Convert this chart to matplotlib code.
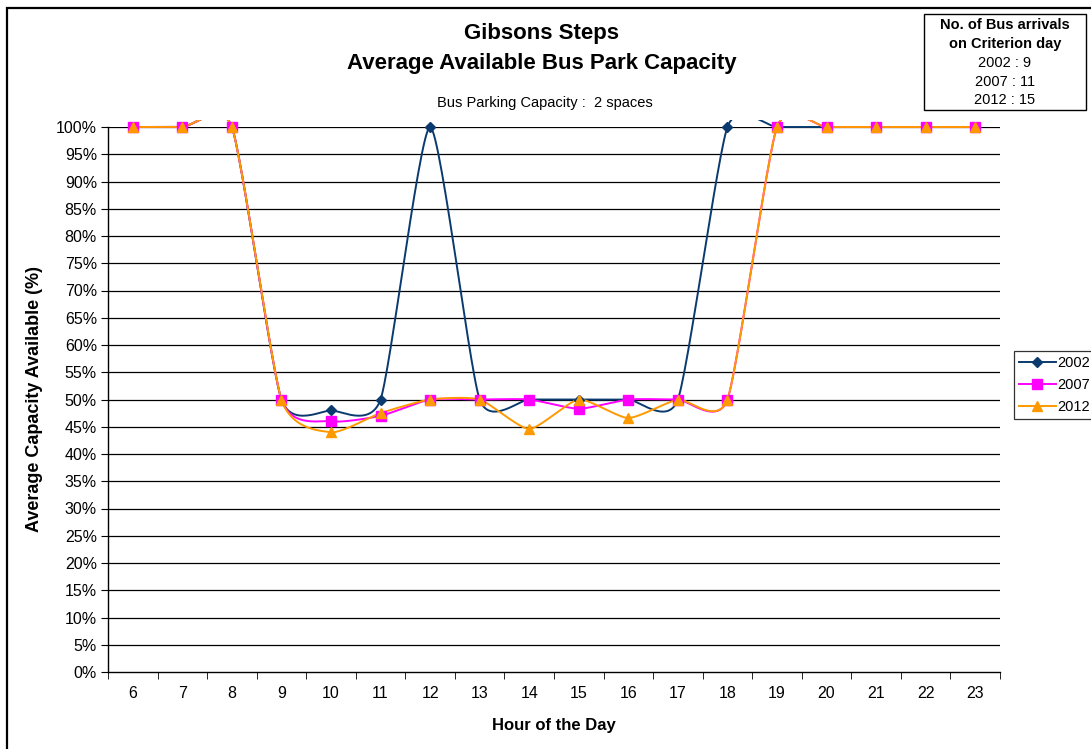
import numpy as np
import matplotlib
matplotlib.use("Agg")
import matplotlib.pyplot as plt
from matplotlib.patches import Rectangle

plt.rcParams['font.family'] = ['Liberation Sans', 'DejaVu Sans']

hours = [6, 7, 8, 9, 10, 11, 12, 13, 14, 15, 16, 17, 18, 19, 20, 21, 22, 23]
cap_2002 = [100, 100, 100, 50, 48, 50, 100, 50, 50, 50, 50, 50, 100, 100, 100, 100, 100, 100]
cap_2007 = [100, 100, 100, 50, 46, 47, 50, 50, 50, 48.3, 50, 50, 50, 100, 100, 100, 100, 100]
cap_2012 = [100, 100, 100, 50, 44, 47.5, 50, 50, 44.6, 50, 46.6, 50, 50, 100, 100, 100, 100, 100]
series_names = ['2002', '2007', '2012']
arrivals = [9, 11, 15]


def smooth(xs, ys, k=0.1, n=30):
    """Cubic Bezier smoothing through every point; handles = k * (next - previous)."""
    xs = np.asarray(xs, float)
    ys = np.asarray(ys, float)
    px = np.concatenate([[xs[0]], xs, [xs[-1]]])
    py = np.concatenate([[ys[0]], ys, [ys[-1]]])
    pts = np.column_stack([px, py])
    out = []
    t = np.linspace(0, 1, n)[:, None]
    for i in range(1, len(pts) - 2):
        p0, p3 = pts[i], pts[i + 1]
        c1 = p0 + (pts[i + 1] - pts[i - 1]) * k
        c2 = p3 - (pts[i + 2] - pts[i]) * k
        b = (1 - t) ** 3 * p0 + 3 * (1 - t) ** 2 * t * c1 + 3 * (1 - t) * t ** 2 * c2 + t ** 3 * p3
        out.append(b)
    out = np.vstack(out)
    return out[:, 0], out[:, 1]


fig = plt.figure(figsize=(10.91, 7.49), dpi=100)
W, H = 1091, 749
left, right, top, bottom = 108, 1000, 127, 672
ax = fig.add_axes([left / W, 1 - bottom / H, (right - left) / W, (bottom - top) / H])

xpos = np.arange(len(hours))
styles = [
    dict(color='#0A3A6E', marker='D', ms=5),
    dict(color='#FF00FF', marker='s', ms=6.5),
    dict(color='#FF9900', marker='^', ms=7.5),
]
# lines may poke a few pixels above 100% before being cut off
clip = Rectangle((0, 0), 1, 1.012, transform=ax.transAxes, visible=False)
ax.add_patch(clip)
handles = []
for vals, name, st in zip([cap_2002, cap_2007, cap_2012], series_names, styles):
    sx, sy = smooth(xpos, vals)
    ln, = ax.plot(sx, sy, color=st['color'], lw=1.4, zorder=3)
    ln.set_clip_path(clip)
    ax.plot(xpos, vals, linestyle='none', marker=st['marker'], ms=st['ms'],
            color=st['color'], mec=st['color'], zorder=4, clip_on=False)
    h, = ax.plot([], [], color=st['color'], lw=1.4, marker=st['marker'], ms=st['ms'])
    handles.append(h)

ax.set_xlim(-0.5, len(hours) - 0.5)
ax.set_ylim(0, 100)
ax.set_yticks(np.arange(0, 101, 5))
ax.set_yticklabels([f'{v}%' for v in range(0, 101, 5)], fontsize=11.5)
ax.set_xticks(xpos)
ax.set_xticklabels([str(h) for h in hours], fontsize=11.5)
ax.set_xticks(np.arange(-0.5, len(hours), 1), minor=True)
ax.tick_params(axis='x', which='major', length=0, pad=10)
ax.tick_params(axis='x', which='minor', length=5, direction='out', color='black')
ax.tick_params(axis='y', length=5, direction='out', color='black', pad=3)
for yv in range(5, 101, 5):
    ax.axhline(yv, color='black', lw=0.9, zorder=1)
ax.spines['top'].set_visible(False)
ax.spines['right'].set_visible(False)
ax.spines['left'].set_linewidth(1.0)
ax.spines['bottom'].set_linewidth(1.0)

ax.set_xlabel('Hour of the Day', fontsize=12, fontweight='bold', labelpad=12)
ax.set_ylabel('Average Capacity Available (%)', fontsize=13, fontweight='bold', labelpad=9)

fig.text(542 / W, 1 - 33 / H, 'Gibsons Steps', ha='center', va='center',
         fontsize=16, fontweight='bold')
fig.text(542 / W, 1 - 64 / H, 'Average Available Bus Park Capacity', ha='center', va='center',
         fontsize=16, fontweight='bold')
fig.text(545 / W, 1 - 103 / H, 'Bus Parking Capacity :  2 spaces', ha='center', va='center',
         fontsize=10.5)

# arrivals box
fig.patches.append(Rectangle((924 / W, 1 - 110 / H), 162 / W, 96 / H, transform=fig.transFigure,
                             fill=False, edgecolor='black', lw=1.0))
box_lines = [('No. of Bus arrivals', 'bold'), ('on Criterion day', 'bold')] + \
            [(f'{n} : {a}', 'normal') for n, a in zip(series_names, arrivals)]
box_y = [25, 44, 63, 82, 100]
for (txt, wt), yy in zip(box_lines, box_y):
    fig.text(1005 / W, 1 - yy / H, txt, ha='center', va='center',
             fontsize=10.5, fontweight=wt)

leg = fig.legend(handles, series_names, loc='upper left', bbox_to_anchor=(1014 / W, 1 - 351 / H),
                 frameon=True, fancybox=False, edgecolor='black', fontsize=10.5,
                 handlelength=2.5, handletextpad=0.15, borderpad=0.35, labelspacing=0.55,
                 borderaxespad=0)
leg.get_frame().set_linewidth(0.9)

# chart border (left and top edges fall inside the canvas)
fig.patches.append(Rectangle((7 / W, -0.01), 1.2, 1 - 8 / H + 0.01, transform=fig.transFigure,
                             fill=False, edgecolor='black', lw=1.6))

fig.savefig('out.png', dpi=100)
